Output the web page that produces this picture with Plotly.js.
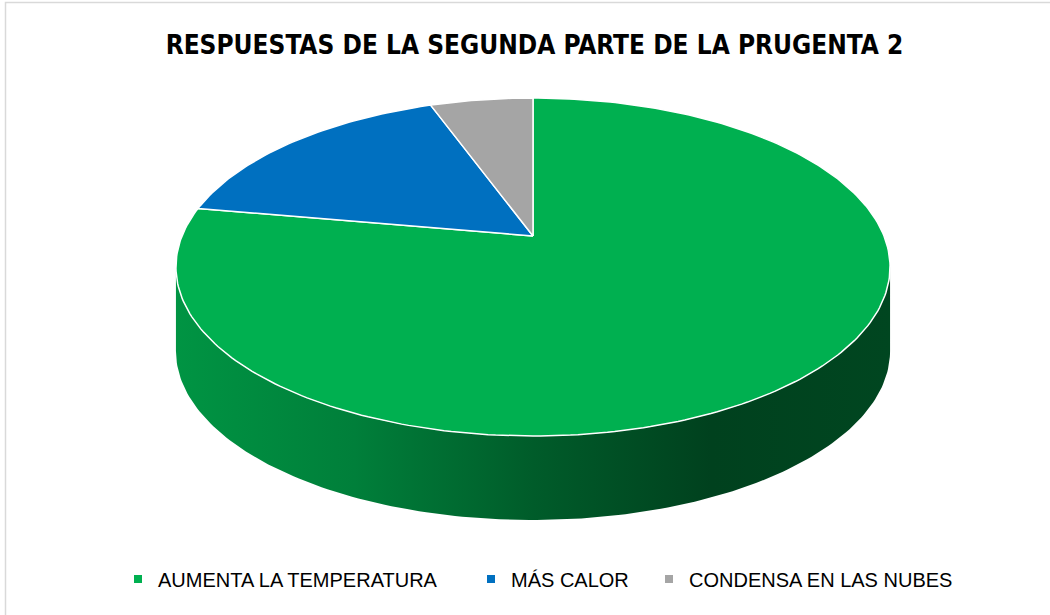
<!DOCTYPE html>
<html>
<head>
<meta charset="utf-8">
<script src="https://cdn.plot.ly/plotly-3.0.1.min.js"></script>
<style>html,body{margin:0;padding:0;background:#fff;}#chart{width:1050px;height:615px;}</style>
</head>
<body>
<div id="chart"></div>
<script>
// ---- data ----
const categories = ["AUMENTA LA TEMPERATURA", "MÁS CALOR", "CONDENSA EN LAS NUBES"];
const values = [14, 3, 1];
const colors = ["#00B050", "#0070C0", "#A5A5A5"];
const chartTitle = "RESPUESTAS DE LA SEGUNDA PARTE DE LA PRUGENTA 2";

// ---- geometry of the 3-D pie (perspective ellipse) ----
const CX = 533, CY = 236, R = 351, A = 163.3, B = 0.1834, DEPTH = 84;
function proj(phiDeg, dz) {
  const p = phiDeg * Math.PI / 180;
  const u = Math.sin(p), v = Math.cos(p), d = 1 + B * v;
  return [CX + R * u / d, CY - A * v / d + dz];
}
function shade(hex, f) {
  const n = parseInt(hex.slice(1), 16);
  const r = Math.round(((n >> 16) & 255) * f), g = Math.round(((n >> 8) & 255) * f), b = Math.round((n & 255) * f);
  return `rgb(${r},${g},${b})`;
}

const total = values.reduce((a, b) => a + b, 0);
const titleFont = '"DejaVu Sans Condensed", "DejaVu Sans", sans-serif';
const legendFont = '"Liberation Sans", Arial, sans-serif';
const sideTraces = [];
const topTraces = [];
const legendTraces = [];
const legendNames = ['legend', 'legend2', 'legend3'];
const legendX = [118, 471, 649];

// front (visible side) angular range
const phiR = Math.acos(-B) * 180 / Math.PI;
const phiL = 360 - phiR;

let start = 0;
values.forEach((val, i) => {
  const sweep = val / total * 360;
  const end = start + sweep;
  // top face
  const xs = [CX], ys = [CY];
  const steps = Math.max(2, Math.ceil(sweep));
  for (let k = 0; k <= steps; k++) {
    const [x, y] = proj(start + sweep * k / steps, 0);
    xs.push(x); ys.push(y);
  }
  xs.push(CX); ys.push(CY);
  topTraces.push({
    type: 'scatter', mode: 'lines', x: xs, y: ys, fill: 'toself',
    fillcolor: colors[i], line: {color: '#ffffff', width: 1.5},
    hoverinfo: 'skip', showlegend: false
  });
  // side wall (only the front-visible part)
  const s0 = Math.max(start, phiR), s1 = Math.min(end, phiL);
  if (s1 > s0) {
    const sx = [], sy = [];
    const n = Math.max(2, Math.ceil(s1 - s0));
    for (let k = 0; k <= n; k++) { const [x, y] = proj(s0 + (s1 - s0) * k / n, 0); sx.push(x); sy.push(y); }
    for (let k = n; k >= 0; k--) { const [x, y] = proj(s0 + (s1 - s0) * k / n, DEPTH); sx.push(x); sy.push(y); }
    sx.push(sx[0]); sy.push(sy[0]);
    sideTraces.push({
      type: 'scatter', mode: 'lines', x: sx, y: sy, fill: 'toself',
      line: {width: 0, color: 'rgba(0,0,0,0)'},
      fillgradient: {type: 'horizontal', colorscale: [
        [0, shade(colors[i], 0.84)], [0.25, shade(colors[i], 0.72)],
        [0.5, shade(colors[i], 0.52)], [0.75, shade(colors[i], 0.37)],
        [1, shade(colors[i], 0.40)]]},
      hoverinfo: 'skip', showlegend: false
    });
  }
  legendTraces.push({
    type: 'scatter', mode: 'markers', x: [null], y: [null], name: categories[i],
    legend: legendNames[i],
    marker: {symbol: 'square', size: 8, color: colors[i]}, hoverinfo: 'skip'
  });
  start = end;
});

const data = [...sideTraces, ...topTraces, ...legendTraces];

const layout = {
  width: 1050, height: 615,
  margin: {l: 0, r: 0, t: 0, b: 0},
  paper_bgcolor: '#ffffff', plot_bgcolor: '#ffffff',
  title: {text: '<b>' + chartTitle + '</b>', x: 0.509, xanchor: 'center', y: 1 - 45 / 615, yanchor: 'middle',
    font: {family: titleFont, size: 26, color: '#000000'}},
  xaxis: {range: [0, 1050], visible: false, fixedrange: true},
  yaxis: {range: [615, 0], visible: false, fixedrange: true},
  showlegend: true,
  shapes: [{type: 'rect', xref: 'paper', yref: 'paper', x0: 5.5 / 1050, x1: 1.02, y0: -0.02, y1: 1 - 2.5 / 615,
    line: {color: '#D9D9D9', width: 1.5}, fillcolor: 'rgba(0,0,0,0)', layer: 'below'}]
};
legendNames.forEach((nm, i) => {
  layout[nm] = {orientation: 'h', x: legendX[i] / 1050, xanchor: 'left', y: 1 - 579 / 615, yanchor: 'middle',
    font: {family: legendFont, size: 20, color: '#000000'}, itemwidth: 30, bgcolor: 'rgba(0,0,0,0)'};
});

Plotly.newPlot('chart', data, layout, {displayModeBar: false, staticPlot: true});
</script>
</body>
</html>
